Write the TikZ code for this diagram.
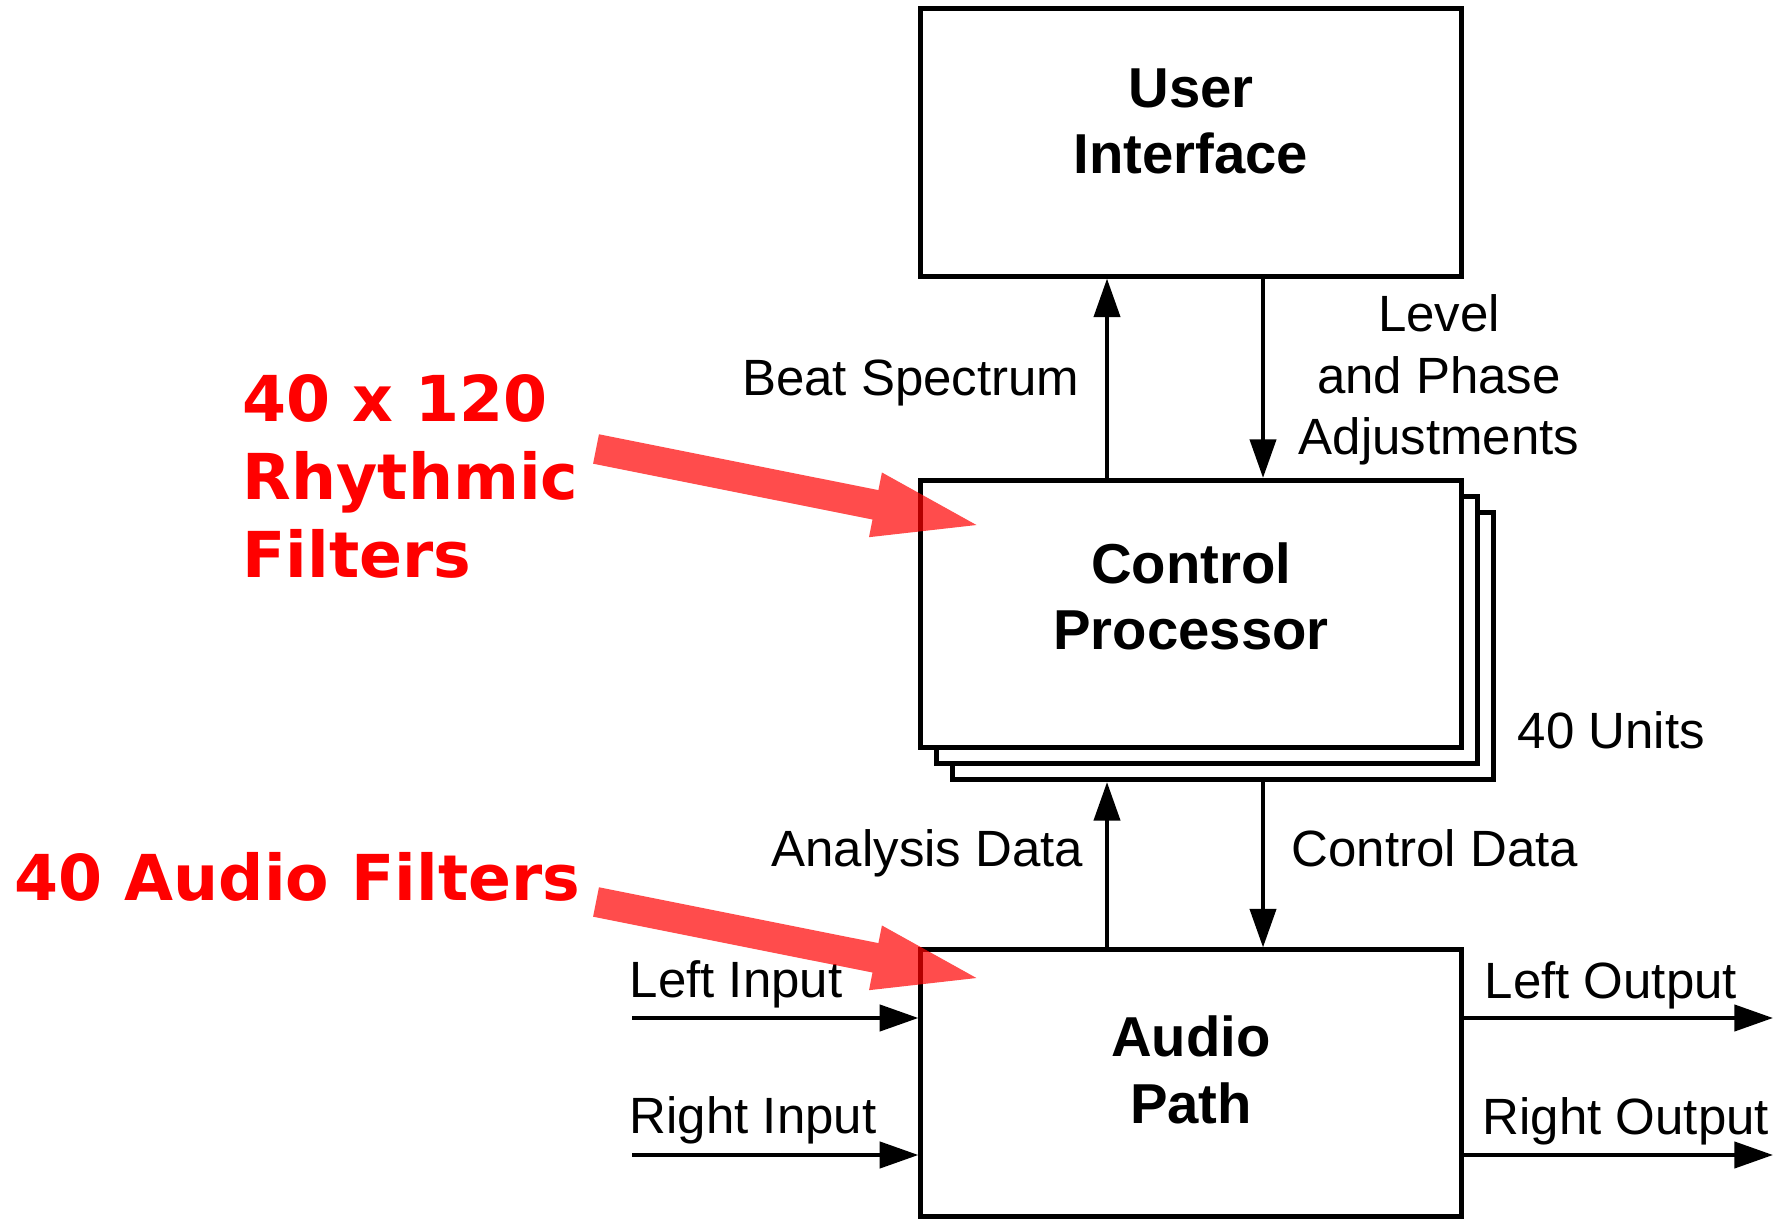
\documentclass[tikz,border=0pt]{standalone}
\usepackage{fontspec}
\setmainfont{Liberation Sans}
\newfontfamily\redfont{DejaVu Sans}
\usetikzlibrary{arrows.meta,calc}

\begin{document}
\begin{tikzpicture}[x=0.01cm, y=0.01cm,
    block/.style={draw, line width=1.4pt, fill=white, inner sep=0pt,
      minimum width=5.4cm, minimum height=2.67cm},
    boxtext/.style={align=center, inner sep=0pt,
      font=\fontsize{16}{18.8}\selectfont\bfseries},
    lbl/.style={inner sep=0pt, font=\fontsize{14.5}{17.6}\selectfont},
    flow/.style={line width=1.2pt, -{Triangle[length=11pt,width=7.4pt]}},
    note/.style={inner sep=0pt, align=left, text=red,
      font=\fontsize{18}{22.2}\selectfont\redfont\bfseries},
    hint/.style={fill=red, fill opacity=0.7}]
  \useasboundingbox (0,0) rectangle (1788,1218);

  % blocks
  \node[block] (ui) at (1191,1075.5) {};
  \node[block] (cp3) at (1223,572) {};
  \node[block] (cp2) at (1207,588) {};
  \node[block] (cp) at (1191,604) {};
  \node[block, minimum height=2.66cm] (ap) at (1191,135) {};

  % base = last line
  \node[boxtext, anchor=base] at (1191,1044) {User\\Interface};
  \node[boxtext, anchor=base] at (1191,568) {Control\\Processor};
  \node[boxtext, anchor=base] at (1191,95) {Audio\\Path};

  % vertical connectors
  \coordinate (upx) at (1107,0);
  \coordinate (downx) at (1263,0);
  \draw[flow] (cp.north -| upx) -- (ui.south -| upx);
  \draw[flow] (ui.south -| downx) -- (cp.north -| downx);
  \draw[flow] (ap.north -| upx) -- (cp3.south -| upx);
  \draw[flow] (cp3.south -| downx) -- (ap.north -| downx);

  % inputs and outputs
  \coordinate (lin) at (632,200);
  \coordinate (rin) at (632,63);
  \coordinate (lout) at (1773,200);
  \coordinate (rout) at (1773,63);
  \draw[flow] (lin) -- (lin -| ap.west);
  \draw[flow] (rin) -- (rin -| ap.west);
  \draw[flow] (lout -| ap.east) -- (lout);
  \draw[flow] (rout -| ap.east) -- (rout);

  % labels
  \node[lbl, anchor=base east] at (1080,822) {Beat Spectrum};
  \node[lbl, anchor=base, align=center] at (1439,763) {Level\\and Phase\\Adjustments};
  \node[lbl, anchor=base west] at (1517,469) {40 Units};
  \node[lbl, anchor=base east] at (1084,351) {Analysis Data};
  \node[lbl, anchor=base west] at (1291,351) {Control Data};
  \node[lbl, anchor=base west] at (629,221) {Left Input};
  \node[lbl, anchor=base west] at (629,85) {Right Input};
  \node[lbl, anchor=base west] at (1484,219) {Left Output};
  \node[lbl, anchor=base west] at (1482,84) {Right Output};

  % red notes
  \node[note, anchor=base west] at (242,640) {40 x 120\\Rhythmic\\Filters};
  \node[note, anchor=base west] at (14,317) {40 Audio Filters};
  \fill[hint, shift={(596,769)}, rotate=-11.3]
    (0,15) -- (285,15) -- (285,33) -- (388,0) -- (285,-33) -- (285,-15) -- (0,-15) -- cycle;
  \fill[hint, shift={(596,316)}, rotate=-11.3]
    (0,15) -- (285,15) -- (285,33) -- (388,0) -- (285,-33) -- (285,-15) -- (0,-15) -- cycle;
\end{tikzpicture}
\end{document}
